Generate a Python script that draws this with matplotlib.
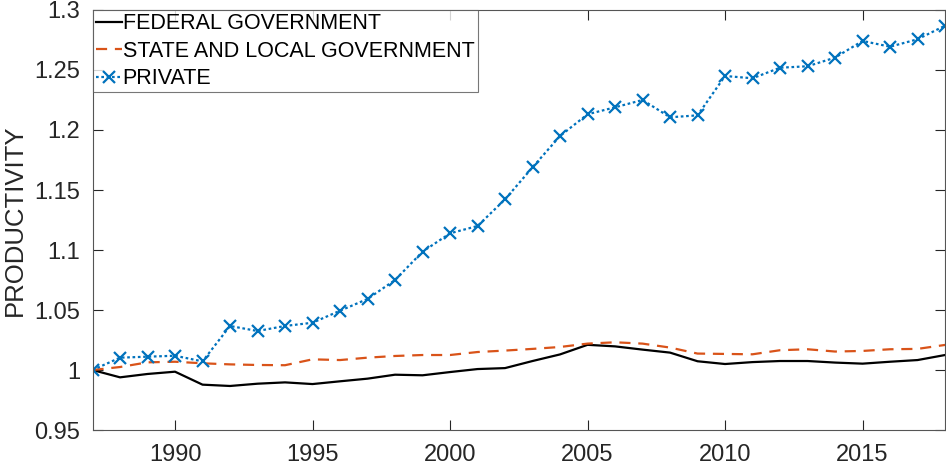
import matplotlib
matplotlib.use("Agg")
import matplotlib.pyplot as plt
from matplotlib.ticker import FuncFormatter

plt.rcParams['font.family'] = ['Liberation Sans', 'DejaVu Sans']

years = list(range(1987, 2019))

federal = [1.0, 0.9939, 0.9967, 0.9986, 0.9878, 0.9867, 0.9886, 0.9897,
           0.9883, 0.9906, 0.9928, 0.9961, 0.9956, 0.9983, 1.0008, 1.0016,
           1.0075, 1.0130, 1.0210, 1.0197, 1.0170, 1.0145, 1.0073, 1.0050,
           1.0066, 1.0075, 1.0075, 1.0062, 1.0053, 1.0069, 1.0083, 1.0125]

state_local = [1.0, 1.0025, 1.0064, 1.0069, 1.0056, 1.0047, 1.0042, 1.0040,
               1.0089, 1.0083, 1.0103, 1.0117, 1.0125, 1.0125, 1.0150, 1.0162,
               1.0176, 1.0192, 1.0220, 1.0231, 1.0220, 1.0187, 1.0137, 1.0134,
               1.0131, 1.0165, 1.0173, 1.0154, 1.0159, 1.0173, 1.0176, 1.0209]

private = [1.0, 1.0103, 1.0111, 1.0119, 1.0072, 1.0367, 1.0325, 1.0367,
           1.0394, 1.0494, 1.0592, 1.0750, 1.0986, 1.1139, 1.1200, 1.1422,
           1.1689, 1.1950, 1.2131, 1.2189, 1.2250, 1.2106, 1.2122, 1.2450,
           1.2431, 1.2519, 1.2531, 1.2603, 1.2742, 1.2694, 1.2756, 1.2869]

series_labels = ["FEDERAL GOVERNMENT", "STATE AND LOCAL GOVERNMENT", "PRIVATE"]
x_ticks = [1990, 1995, 2000, 2005, 2010, 2015]
y_ticks = [0.95, 1.0, 1.05, 1.1, 1.15, 1.2, 1.25, 1.3]

axis_grey = '#262626'

fig = plt.figure(figsize=(9.46, 4.71), dpi=100)
ax = fig.add_axes([0.0978, 0.087, 0.9012, 0.8918])

ax.plot(years, federal, color='black', linewidth=1.6, label=series_labels[0])
ax.plot(years, state_local, color='#D95319', linewidth=1.6,
        linestyle=(0, (5, 3.5)), label=series_labels[1])
ax.plot(years, private, color='#0072BD', linewidth=1.6, linestyle=(0, (1.2, 1.2)),
        marker='x', markersize=8, markeredgewidth=1.6, label=series_labels[2])

ax.set_xlim(1987, 2018)
ax.set_ylim(0.95, 1.3)
ax.set_xticks(x_ticks)
ax.set_yticks(y_ticks)
ax.yaxis.set_major_formatter(FuncFormatter(lambda v, p: f"{v:g}"))

ax.tick_params(direction='in', length=7, width=0.8, top=True, right=True,
               labelsize=17, colors=axis_grey)
ax.tick_params(axis='x', pad=10)
ax.tick_params(axis='y', pad=9)
for s in ax.spines.values():
    s.set_color('#555555')
    s.set_linewidth(0.8)

ax.set_ylabel("PRODUCTIVITY", fontsize=18.5, color=axis_grey)
ax.yaxis.set_label_coords(-0.0775, 0.5)

leg = ax.legend(loc='upper left', fontsize=15.5, frameon=True, fancybox=False,
                handlelength=1.2, handletextpad=0.05, labelspacing=0.3,
                borderpad=0.15, borderaxespad=0.0)
leg.get_frame().set_edgecolor('#555555')
leg.get_frame().set_linewidth(0.8)

fig.savefig("out.png", dpi=100)
